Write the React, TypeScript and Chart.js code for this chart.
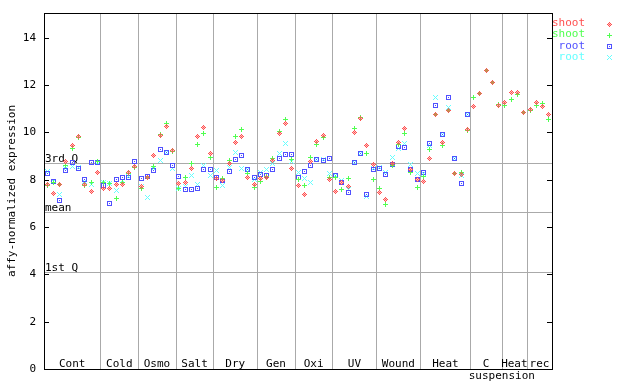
import React, { useEffect, useRef } from 'react';
import { Chart, registerables } from 'chart.js';
Chart.register(...registerables);

const categories = ['Cont', 'Cold', 'Osmo', 'Salt', 'Dry', 'Gen', 'Oxi', 'UV', 'Wound', 'Heat', 'C', 'Heat', 'rec'];
const categoryCounts = [9, 6, 6, 6, 7, 6, 6, 7, 7, 8, 5, 4, 4];
const subLabel = 'suspension';
const subLabelAfterCategory = 10;
const yTicks = [0, 2, 4, 6, 8, 10, 12, 14];
const quartileLabels = ['3rd Q', 'mean', '1st Q'];
const quartileValues = [8.7, 6.63, 4.09];
const yTitle = 'affy-normalized expression';
const legendLabels = ['shoot', 'shoot', 'root', 'root'];
const seriesColors = ['#ff5050', '#50ff50', '#5050ff', '#66ffff'];

const shootRed = [
  7.81, 7.43, 7.81, 8.77, 9.43, 9.82, 7.8, 7.51, 8.32,
  7.64, 7.64, 7.81, 7.78, 8.32, 8.55,
  7.7, 8.09, 9.03, 9.87, 10.25, 9.23,
  7.82, 7.86, 8.49, 9.81, 10.22, 9.12,
  8.03, 7.96, 8.7, 9.58, 9.84, 8.1, 7.81,
  8.05, 8.1, 8.8, 9.96, 10.39, 8.46,
  7.74, 7.39, 8.77, 9.61, 9.85, 8.02,
  7.48, 7.88, 7.73, 10.01, 10.57, 9.43, 8.63,
  7.46, 7.15, 8.7, 9.57, 10.18, 8.44, 8.0,
  7.92, 8.91, 10.77, 9.58, 10.91, 8.24, 8.2, 10.13,
  11.09, 11.66, 12.61, 12.12, 11.12,
  11.26, 11.7, 11.7, 10.85,
  10.98, 11.28, 11.07, 10.74,
];
const shootGreen = [
  7.75, 7.9, 7.81, 8.58, 9.32, 9.78, 7.74, 7.88, 8.75,
  7.9, 7.85, 7.19, 7.88, 8.28, 8.5,
  7.62, 8.1, 8.55, 9.9, 10.39, 9.2,
  7.62, 8.1, 8.7, 9.5, 9.96, 8.95,
  7.68, 8.03, 8.81, 9.84, 10.13, 8.24, 7.68,
  7.92, 8.15, 8.88, 10.04, 10.56, 8.84,
  7.99, 7.74, 8.94, 9.5, 9.8, 8.1,
  8.09, 7.57, 8.03, 10.18, 10.64, 9.12, 7.99,
  7.61, 6.96, 8.6, 9.5, 9.96, 8.3, 7.68,
  8.13, 9.26, 10.77, 9.46, 10.91, 8.24, 8.32, 10.08,
  11.45, 11.66, 12.61, 12.12, 11.19,
  11.15, 11.4, 11.59, 10.85,
  10.91, 11.15, 11.2, 10.52,
];
const rootBlue = [
  8.27, 7.94, 7.12, 8.37, 8.74, 8.46, 8.02, 8.74, 8.74,
  7.75, 6.98, 7.99, 8.1, 8.09, 8.77,
  8.03, 8.15, 8.37, 9.26, 9.16, 8.6,
  8.15, 7.57, 7.6, 7.62, 8.41, 8.44,
  8.1, 7.96, 8.33, 8.87, 9.0, 8.41, 8.1,
  8.23, 8.19, 8.41, 8.91, 9.05, 9.05,
  8.1, 8.33, 8.61, 8.87, 8.82, 8.91,
  8.19, 7.88, 7.46, 8.74, 9.12, 7.39, 8.41,
  8.46, 8.2, 8.66, 9.4, 9.37, 8.44, 7.99,
  8.3, 9.54, 11.12, 9.92, 11.45, 8.91, 7.85, 10.77,
  null, null, null, null, null,
  null, null, null, null,
  null, null, null, null,
];
const rootCyan = [
  8.34, 7.94, 7.36, 8.45, 8.55, 8.51, 7.92, 7.8, 8.74,
  7.9, 7.85, 7.53, 7.95, 8.15, 8.65,
  7.72, 7.26, 8.45, 8.81, 9.16, 8.49,
  7.62, 7.7, 8.19, 7.78, 8.61, 8.19,
  8.37, 7.75, 8.51, 9.16, 8.49, 8.41, 7.99,
  8.3, 8.41, 8.7, 9.12, 9.51, 8.77,
  8.3, 8.06, 7.86, 8.87, 8.87, 8.27,
  8.19, 7.95, 7.6, 8.74, 9.1, 7.3, 8.46,
  8.5, 8.3, 8.94, 9.3, 9.51, 8.63, 8.24,
  8.28, 9.43, 11.49, 9.92, 11.05, 8.91, 8.16, 10.77,
  null, null, null, null, null,
  null, null, null, null,
  null, null, null, null,
];

const FONT = '11px "DejaVu Sans Mono", monospace';

function makeMarker(kind: string, color: string): HTMLCanvasElement {
  const c = document.createElement('canvas');
  c.width = 5;
  c.height = 5;
  const g = c.getContext('2d')!;
  g.fillStyle = color;
  const px = (x: number, y: number) => g.fillRect(x, y, 1, 1);
  for (let y = 0; y < 5; y++) {
    for (let x = 0; x < 5; x++) {
      const dx = Math.abs(x - 2), dy = Math.abs(y - 2);
      if (kind === 'diamond') {
        const d = dx + dy;
        if (d === 2 || d === 0) px(x, y);
      } else if (kind === 'plus') {
        if (dx === 0 || dy === 0) px(x, y);
      } else if (kind === 'square') {
        if (x === 0 || x === 4 || y === 0 || y === 4 || (dx === 0 && dy === 0)) px(x, y);
      } else if (kind === 'cross') {
        if (dx === dy) px(x, y);
      }
    }
  }
  if (kind === 'diamond') {
    g.fillStyle = 'rgba(255,80,80,0.35)';
    [[2, 1], [1, 2], [3, 2], [2, 3]].forEach(([x, y]) => g.fillRect(x, y, 1, 1));
  }
  return c;
}

export default function App() {
  const ref = useRef<HTMLCanvasElement>(null);
  useEffect(() => {
    const canvas = ref.current!;
    const markers = [
      makeMarker('diamond', seriesColors[0]),
      makeMarker('plus', seriesColors[1]),
      makeMarker('square', seriesColors[2]),
      makeMarker('cross', seriesColors[3]),
    ];
    const series = [shootRed, shootGreen, rootBlue, rootCyan];
    const total = categoryCounts.reduce((s, v) => s + v, 0);

    const plugin = {
      id: 'decor',
      beforeDatasetsDraw(chart: any) {
        const { ctx, chartArea: a, scales } = chart;
        const x = scales.x, y = scales.y;
        ctx.save();
        ctx.fillStyle = '#aaaaaa';
        let cum = 0;
        for (let k = 0; k < categoryCounts.length - 1; k++) {
          cum += categoryCounts[k];
          const p = Math.round(x.getPixelForValue(cum));
          ctx.fillRect(p, a.top, 1, a.bottom - a.top);
        }
        quartileValues.forEach((v) => {
          const p = Math.round(y.getPixelForValue(v));
          ctx.fillRect(a.left, p, a.right - a.left, 1);
        });
        ctx.fillStyle = '#000';
        ctx.font = FONT;
        ctx.textAlign = 'left';
        ctx.textBaseline = 'alphabetic';
        quartileLabels.forEach((t, i) => {
          const p = Math.round(y.getPixelForValue(quartileValues[i]));
          ctx.fillText(t, a.left + 1, p - 1);
        });
        ctx.textAlign = 'center';
        let start = 0;
        categories.forEach((t, i) => {
          const cx = x.getPixelForValue(start + categoryCounts[i] / 2);
          ctx.fillText(t, cx, a.bottom - 2);
          if (i === subLabelAfterCategory) {
            ctx.fillText(subLabel, x.getPixelForValue(start + categoryCounts[i]), a.bottom + 10);
          }
          start += categoryCounts[i];
        });
        ctx.restore();
        ctx.imageSmoothingEnabled = false;
      },
      afterDatasetsDraw(chart: any) {
        const { ctx, chartArea: a, scales } = chart;
        const y = scales.y;
        ctx.save();
        ctx.fillStyle = '#000';
        const L = Math.round(a.left), R = Math.round(a.right), T = Math.round(a.top), B = Math.round(a.bottom);
        ctx.fillRect(L, T, R - L + 1, 1);
        ctx.fillRect(L, B, R - L + 1, 1);
        ctx.fillRect(L, T, 1, B - T + 1);
        ctx.fillRect(R, T, 1, B - T + 1);
        ctx.font = FONT;
        ctx.textAlign = 'right';
        ctx.textBaseline = 'middle';
        yTicks.forEach((v) => {
          const p = Math.round(y.getPixelForValue(v));
          ctx.fillRect(L, p, 5, 1);
          ctx.fillRect(R - 5, p, 5, 1);
          ctx.fillText(String(v), L - 8, p + 0.5);
        });
        ctx.translate(14.5, (a.top + a.bottom) / 2);
        ctx.rotate(-Math.PI / 2);
        ctx.textAlign = 'center';
        ctx.textBaseline = 'alphabetic';
        ctx.fillText(yTitle, 0, 0);
        ctx.restore();
        ctx.save();
        ctx.imageSmoothingEnabled = false;
        ctx.font = FONT;
        ctx.textAlign = 'right';
        ctx.textBaseline = 'middle';
        legendLabels.forEach((t, i) => {
          const ry = 23.5 + i * 11.1;
          ctx.fillStyle = seriesColors[i];
          ctx.fillText(t, 585, ry);
          ctx.drawImage(markers[i], 607, Math.round(ry) - 2);
        });
        ctx.restore();
      },
    };

    const chart = new Chart(canvas, {
      type: 'scatter',
      data: {
        datasets: series.map((arr, si) => ({
          label: legendLabels[si],
          data: arr
            .map((v, i) => (v === null ? null : { x: i + 0.5, y: v }))
            .filter((p) => p !== null) as any,
          pointStyle: markers[si] as any,
          pointRadius: 3,
          showLine: false,
          clip: false as any,
        })),
      },
      options: {
        animation: false,
        responsive: false,
        devicePixelRatio: 1,
        events: [],
        layout: { padding: { left: 44, top: 13, right: 88, bottom: 15 } },
        plugins: { legend: { display: false }, tooltip: { enabled: false } },
        scales: {
          x: { type: 'linear', min: 0, max: total, display: false },
          y: { type: 'linear', min: 0, max: 15.04, display: false },
        },
      },
      plugins: [plugin],
    });
    return () => chart.destroy();
  }, []);
  return (
    <div style={{ position: 'absolute', left: 0, top: 0, width: 640, height: 384, background: '#fff' }}>
      <canvas ref={ref} width={640} height={384} />
    </div>
  );
}
